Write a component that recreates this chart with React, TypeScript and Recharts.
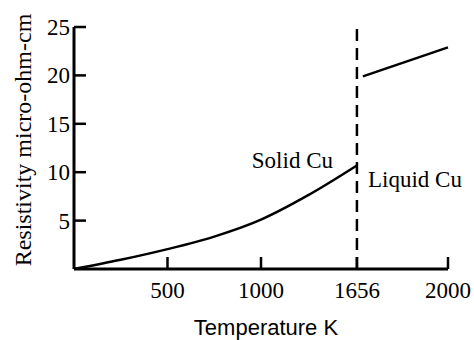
import { LineChart, Line, XAxis, YAxis, ReferenceLine } from 'recharts'

// solid copper, temperature K vs resistivity (melting point drawn at 1513 on the axis, labelled 1656)
const solidTemps = [0, 250, 500, 750, 1000, 1250, 1513]
const solidValues = [0, 0.95, 2.05, 3.35, 5.1, 7.6, 10.7]

const liquidTemps = [1545, 2000]
const liquidValues = [19.9, 22.9]

const meltPoint = 1513
const xTicks = [500, 1000, 1513, 2000]
const xTickLabels = ['500', '1000', '1656', '2000']
const yTicks = [5, 10, 15, 20, 25]

const solidData = solidTemps.map((t, i) => ({ t, r: solidValues[i] }))
const liquidData = liquidTemps.map((t, i) => ({ t, r: liquidValues[i] }))

const SERIF = '"Liberation Serif", "Times New Roman", serif'
const SANS = '"Liberation Sans", Arial, sans-serif'
const TICK_LEN = 12

// ticks point inward, so draw the tick line ourselves next to the label
const XTick = (props: any) => {
  const { x, y, payload } = props
  const axisY = y - 13
  const label = xTickLabels[xTicks.indexOf(payload.value)] ?? String(payload.value)
  return (
    <g>
      <line x1={x} x2={x} y1={axisY} y2={axisY - TICK_LEN} stroke="#000" strokeWidth={2.5} />
      <text x={x} y={y + 16} textAnchor="middle" fontSize={23} fontFamily={SERIF} fill="#000">
        {label}
      </text>
    </g>
  )
}

const YTick = (props: any) => {
  const { x, y, payload } = props
  const axisX = x + 4
  return (
    <g>
      <line x1={axisX} x2={axisX + TICK_LEN} y1={y} y2={y} stroke="#000" strokeWidth={2.5} />
      <text x={x} y={y + 8} textAnchor="end" fontSize={23} fontFamily={SERIF} fill="#000">
        {payload.value}
      </text>
    </g>
  )
}

export default function App() {
  return (
    <div style={{ position: 'absolute', left: 0, top: 0, width: 474, height: 340, background: '#fff' }}>
      <LineChart width={474} height={340} margin={{ top: 27, right: 26, bottom: 31, left: 0 }}>
        <XAxis
          dataKey="t"
          type="number"
          domain={[0, 2000]}
          ticks={xTicks}
          interval={0}
          height={40}
          axisLine={{ stroke: '#000', strokeWidth: 3 }}
          tickLine={false}
          tickSize={0}
          tickMargin={13}
          tick={XTick}
        />
        <YAxis
          type="number"
          domain={[0, 25]}
          ticks={yTicks}
          interval={0}
          width={74}
          axisLine={{ stroke: '#000', strokeWidth: 3 }}
          tickLine={false}
          tickSize={0}
          tickMargin={4}
          tick={YTick}
        />
        <ReferenceLine x={meltPoint} stroke="#000" strokeWidth={2.5} strokeDasharray="12 7" />
        <Line
          data={solidData}
          dataKey="r"
          type="monotone"
          stroke="#000"
          strokeWidth={2.5}
          dot={false}
          isAnimationActive={false}
        />
        <Line
          data={liquidData}
          dataKey="r"
          type="linear"
          stroke="#000"
          strokeWidth={2.5}
          dot={false}
          isAnimationActive={false}
        />
        <text x={333} y={168} textAnchor="end" fontSize={23} fontFamily={SERIF} fill="#000">
          Solid Cu
        </text>
        <text x={368} y={187} textAnchor="start" fontSize={23} fontFamily={SERIF} fill="#000">
          Liquid Cu
        </text>
        <text x={266} y={335} textAnchor="middle" fontSize={22} fontFamily={SANS} fill="#000">
          Temperature K
        </text>
        <text
          transform="translate(23,140) rotate(-90)"
          textAnchor="middle"
          dominantBaseline="central"
          fontSize={24}
          fontFamily={SERIF}
          fill="#000"
        >
          Resistivity micro-ohm-cm
        </text>
      </LineChart>
    </div>
  )
}
